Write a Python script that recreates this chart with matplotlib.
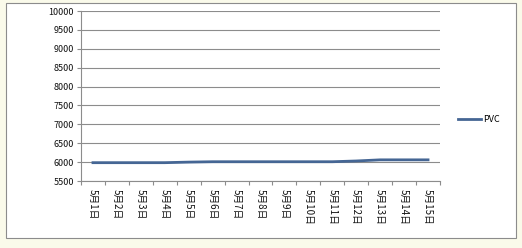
import matplotlib
matplotlib.use("Agg")
import matplotlib.pyplot as plt
from matplotlib.patches import Rectangle

categories = ["5月1日", "5月2日", "5月3日", "5月4日", "5月5日", "5月6日", "5月7日", "5月8日",
              "5月9日", "5月10日", "5月11日", "5月12日", "5月13日", "5月14日", "5月15日"]
pvc = [5985, 5985, 5985, 5985, 6000, 6010, 6010, 6010, 6010, 6010, 6010, 6030, 6060, 6060, 6060]
yticks = list(range(5500, 10001, 500))

plt.rcParams['font.family'] = ['Noto Sans CJK SC', 'DejaVu Sans']

fig = plt.figure(figsize=(5.22, 2.48), dpi=100)
fig.patch.set_facecolor('#fafaea')
W, H = 522, 248
fig.patches.append(Rectangle((6 / W, 1 - 238 / H), 510 / W, 235 / H, transform=fig.transFigure,
                             facecolor='white', edgecolor='#8c8c8c', linewidth=0.8, zorder=-5))

ax = fig.add_axes([81 / W, 1 - 181 / H, (440 - 81) / W, (181 - 11) / H])
ax.set_zorder(3)
ax.set_facecolor('none')
x = list(range(len(categories)))
ax.plot(x, pvc, color='#456694', linewidth=2, label='PVC')
ax.set_xlim(-0.5, len(categories) - 0.5)
ax.set_ylim(5500, 10000)
ax.set_yticks(yticks)
ax.set_yticklabels([str(v) for v in yticks], fontsize=6.5, color='#111111')
ax.set_xticks(x)
ax.set_xticklabels(categories, rotation=270, fontsize=7, color='#111111')
ax.set_xticks([i - 0.5 for i in range(len(categories) + 1)], minor=True)
ax.tick_params(axis='x', which='major', length=0, pad=6)
ax.tick_params(axis='x', which='minor', length=3, color='#8c8c8c', width=0.8)
ax.tick_params(axis='y', length=3, color='#8c8c8c', width=0.8, pad=2)
ax.grid(axis='y', color='#8c8c8c', linewidth=0.8)
ax.set_axisbelow(True)
for s in ['top', 'right']:
    ax.spines[s].set_visible(False)
for s in ['left', 'bottom']:
    ax.spines[s].set_color('#8c8c8c')
    ax.spines[s].set_linewidth(0.8)

leg = fig.legend(loc='center left', bbox_to_anchor=(450 / W, 1 - 120 / H), frameon=False,
                 fontsize=6.5, handlelength=2.5, handletextpad=0.3)
leg.set_zorder(4)

fig.savefig('out.png', dpi=100, facecolor=fig.get_facecolor())
